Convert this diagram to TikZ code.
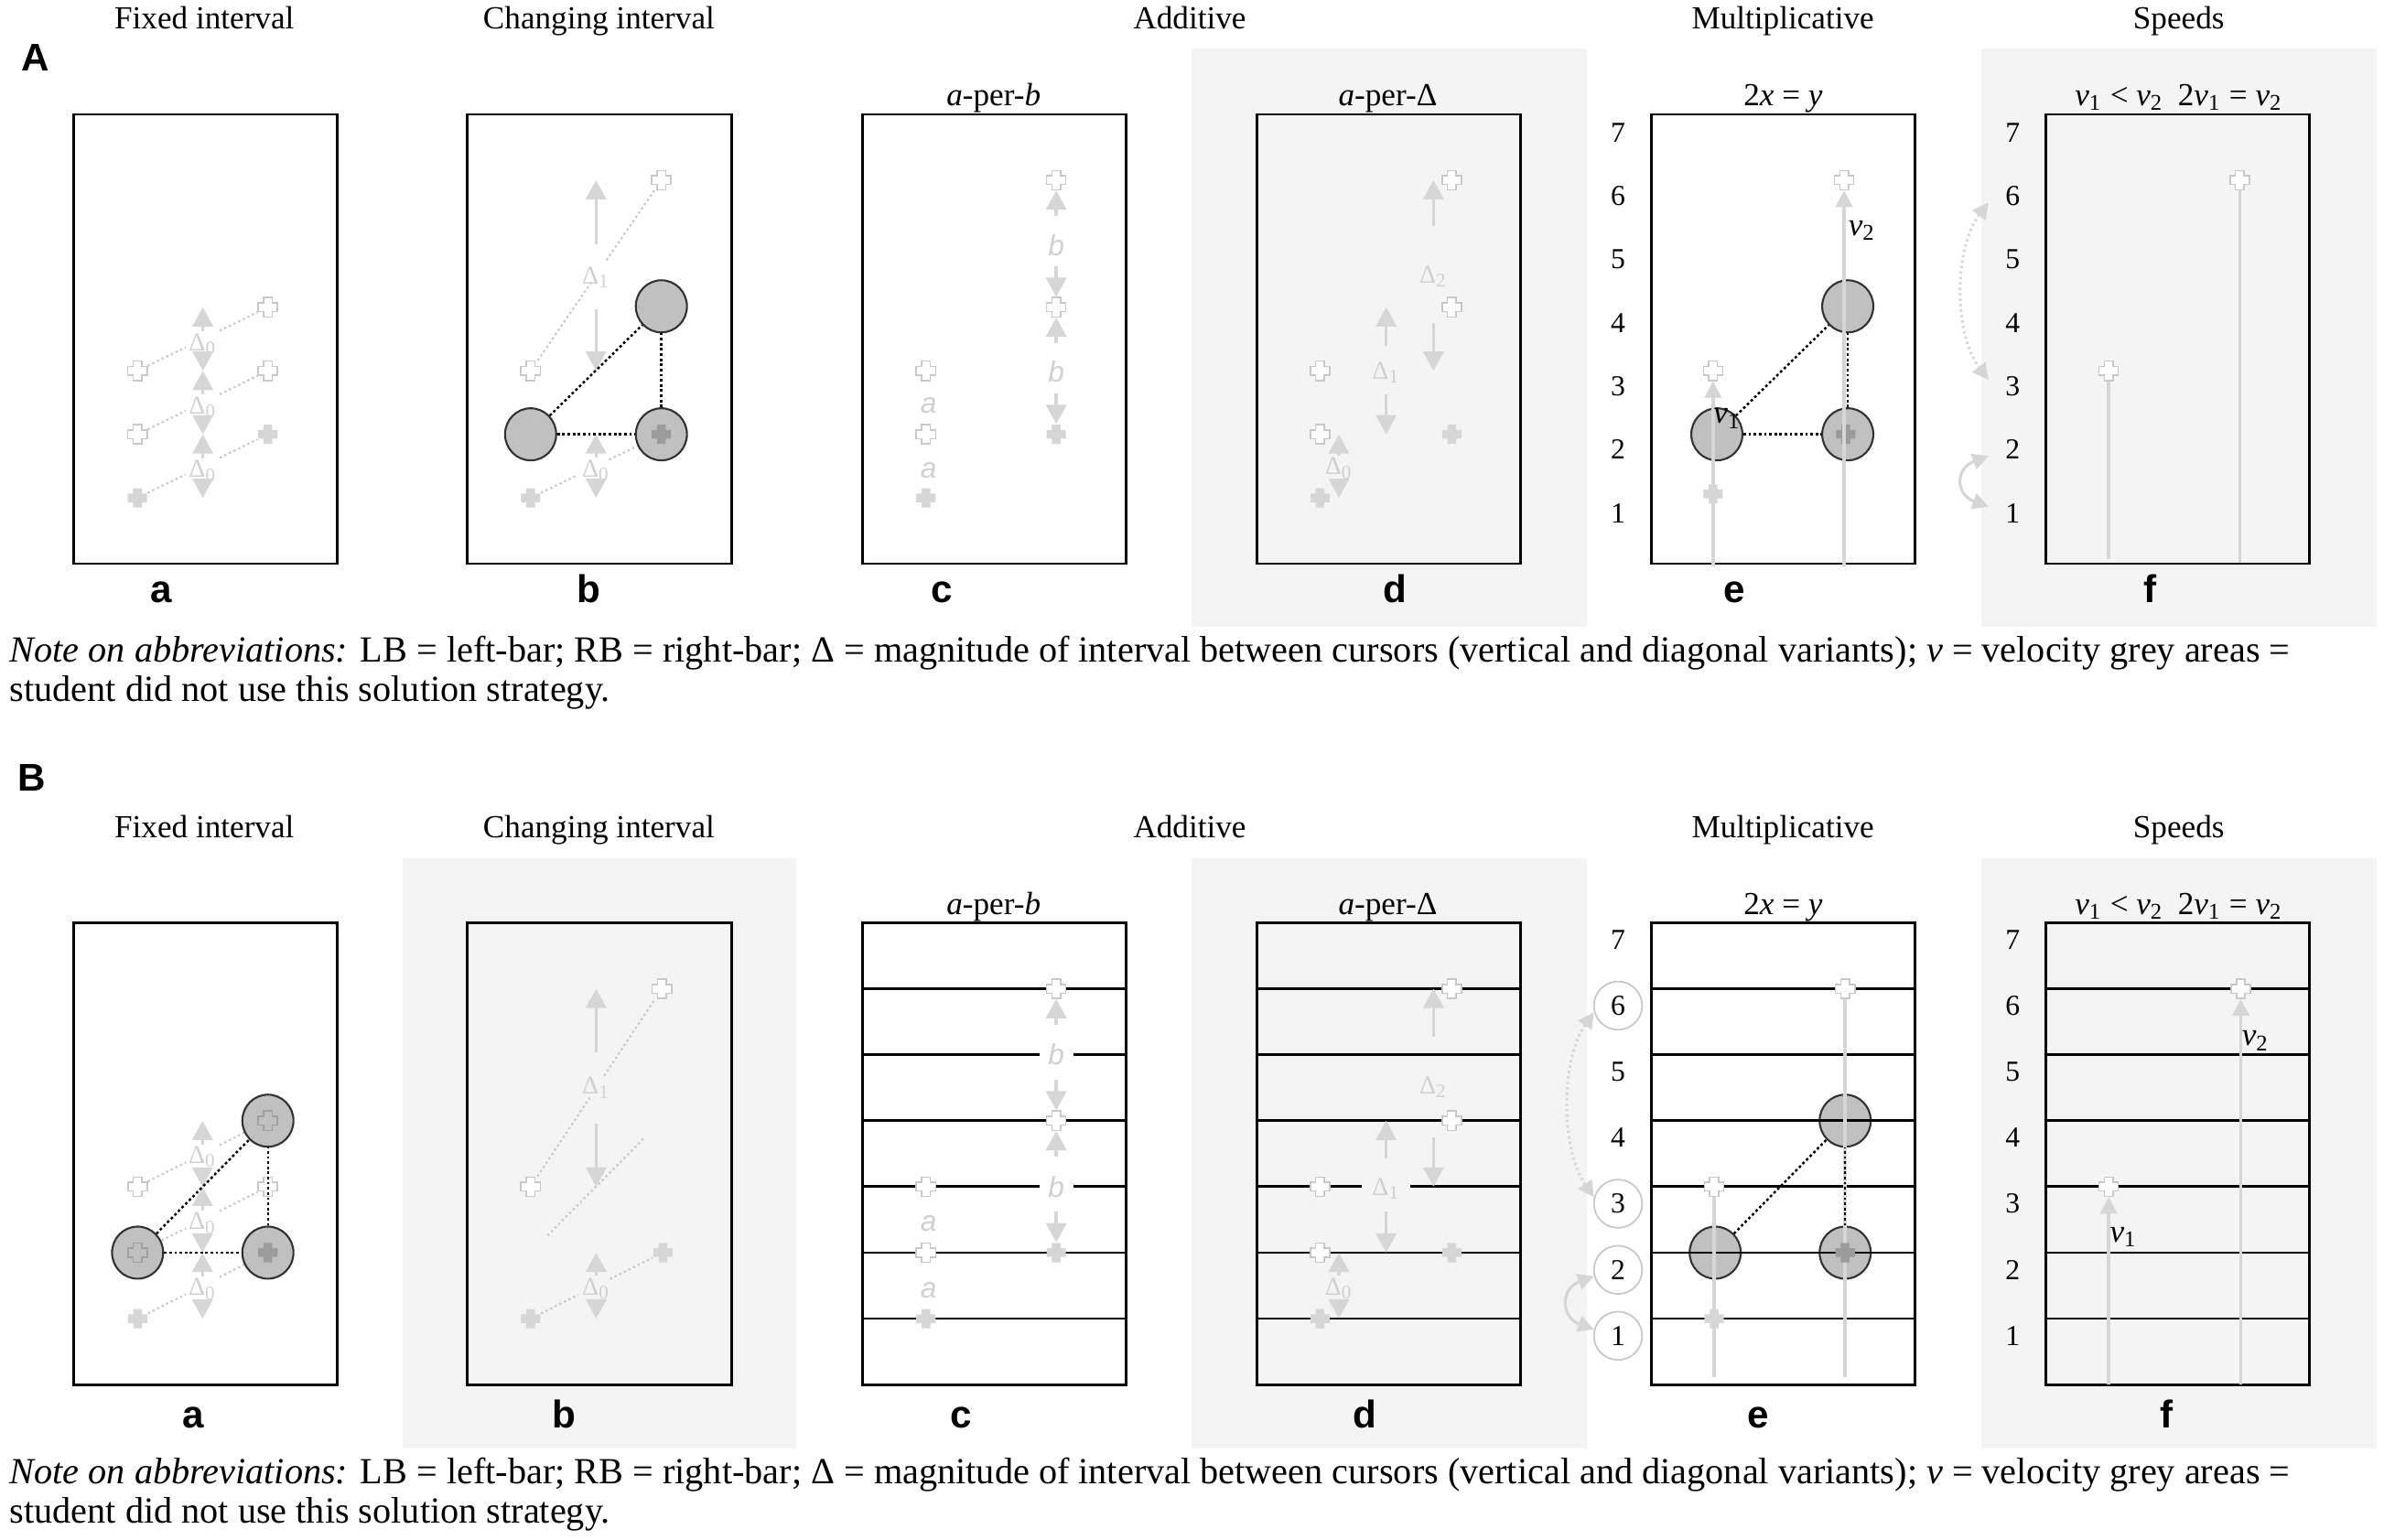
\documentclass[tikz,border=0pt]{standalone}
\usepackage{fontspec}
\setmainfont{Liberation Serif}
\setsansfont{Liberation Sans}
\usetikzlibrary{arrows.meta,shapes.geometric,calc}
\definecolor{bgc}{RGB}{244,244,244}
\definecolor{lg}{RGB}{214,214,214}
\definecolor{lgo}{RGB}{200,200,200}
\definecolor{lgt}{RGB}{208,208,208}
\definecolor{curc}{RGB}{192,192,192}
\definecolor{curd}{RGB}{50,50,50}
\definecolor{dkx}{RGB}{155,155,155}
\definecolor{icc}{RGB}{160,160,160}
\newcommand{\xcn}[2]{\node[cn] (#1) at (#2) {};}
\newcommand{\xsh}[2][ocrs]{\path[#1] (#2.center) ++(-1.35pt,-3pt) -- ++(2.7pt,0pt) -- ++(0pt,1.65pt) -- ++(1.65pt,0pt) -- ++(0pt,2.7pt) -- ++(-1.65pt,0pt) -- ++(0pt,1.65pt) -- ++(-2.7pt,0pt) -- ++(0pt,-1.65pt) -- ++(-1.65pt,0pt) -- ++(0pt,-2.7pt) -- ++(1.65pt,0pt) -- cycle;}
\newcommand{\xcr}[3][ocrs]{\xcn{#2}{#3}\xsh[#1]{#2}}
\newcommand{\dsub}[1]{Δ\textsubscript{#1}}
\newcommand{\vsub}[1]{\textit{v}\textsubscript{#1}}
\begin{document}
\begin{tikzpicture}[
 x=0.4726pt, y=-0.4726pt,
 bx/.style={draw=black, line width=0.8pt},
 gln/.style={draw=black, line width=0.8pt},
 ttl/.style={font=\fontsize{10}{12}\selectfont, anchor=base, inner sep=0pt},
 plab/.style={font=\sffamily\bfseries\fontsize{12}{14}\selectfont, anchor=base, inner sep=0pt},
 rowlab/.style={font=\sffamily\bfseries\fontsize{12}{14}\selectfont, inner sep=0pt},
 numb/.style={font=\fontsize{9}{11}\selectfont, circle, minimum size=15pt, inner sep=0pt},
 cnum/.style={numb, draw=lgo, line width=0.5pt, fill=white},
 dlab/.style={font=\fontsize{8}{9}\selectfont, text=lgt, inner sep=0.5pt},
 dknock/.style={dlab, fill=bgc, minimum width=15pt, minimum height=6pt},
 ilab/.style={font=\sffamily\itshape\fontsize{9}{10}\selectfont, text=lgt, inner sep=0.5pt},
 blab/.style={ilab, fill=white, minimum width=10.5pt, minimum height=6pt},
 vlab/.style={font=\fontsize{10}{12}\selectfont, inner sep=0pt},
 cur/.style={ellipse, draw=curd, line width=0.6pt, fill=curc, minimum width=15.9pt, minimum height=16.2pt, inner sep=0pt},
 cn/.style={inner sep=0pt, minimum size=6pt},
 ocrs/.style={fill=white, draw=lgo, line width=0.45pt},
 fcrs/.style={fill=lg},
 dcrs/.style={fill=dkx},
 icrs/.style={draw=icc, line width=0.45pt},
 garr/.style={draw=lg, line width=1pt, -{Triangle[width=6.3pt,length=6pt]}},
 vln/.style={draw=lg, line width=1pt},
 varr/.style={vln, -{Triangle[width=5.2pt,length=5.2pt]}},
 bdot/.style={draw=black, line width=0.7pt, dash pattern=on 0.8pt off 0.8pt},
 ldot/.style={draw=lgo, line width=0.6pt, dash pattern=on 0.7pt off 0.9pt},
 larc/.style={draw=lg, line width=0.9pt, {Triangle[width=5pt,length=5pt]}-{Triangle[width=5pt,length=5pt]}},
 note/.style={font=\fontsize{11.45}{13}\selectfont, anchor=base west, inner sep=0pt}
]
\useasboundingbox (0,0) rectangle (1568,1013);
% grey areas
\fill[bgc] (783.5,32.2) rectangle (1043.7,412.5);
\fill[bgc] (1303,32.2) rectangle (1563.4,412.5);
\fill[bgc] (264.9,564.4) rectangle (523.7,953);
\fill[bgc] (783.5,564.4) rectangle (1043.7,953);
\fill[bgc] (1303,564.4) rectangle (1563.4,953);
% row letters
\node[rowlab] (rowA) at (23.3,37.9) {A};
\node[rowlab] (rowB) at (21,511.5) {B};
% titles
\foreach \yy/\r in {18.8/A,551.3/B} {
 \node[ttl] (t1\r) at (134.4,\yy) {Fixed interval};
 \node[ttl] (t2\r) at (393.9,\yy) {Changing interval};
 \node[ttl] (t3\r) at (782.5,\yy) {Additive};
 \node[ttl] (t4\r) at (1172.6,\yy) {Multiplicative};
 \node[ttl] (t5\r) at (1433,\yy) {Speeds};
}
\foreach \yy/\r in {69.5/A,601.5/B} {
 \node[ttl] (s1\r) at (653.5,\yy) {\textit{a}-per-\textit{b}};
 \node[ttl] (s2\r) at (912.8,\yy) {\textit{a}-per-Δ};
 \node[ttl] (s3\r) at (1172.8,\yy) {2\textit{x} = \textit{y}};
 \node[ttl] (s4\r) at (1433,\yy) {\vsub{1} < \vsub{2}\hspace{0.45em}2\vsub{1} = \vsub{2}};
}
% panel letters
\node[plab] (laA) at (106,396.3) {a};
\node[plab] (lbA) at (387.3,396.3) {b};
\node[plab] (lcA) at (619.7,396.3) {c};
\node[plab] (ldA) at (917.7,396.3) {d};
\node[plab] (leA) at (1141,396.3) {e};
\node[plab] (lfA) at (1414.5,396.3) {f};
\node[plab] (laB) at (127.4,939) {a};
\node[plab] (lbB) at (370.8,939) {b};
\node[plab] (lcB) at (632,939) {c};
\node[plab] (ldB) at (897.6,939) {d};
\node[plab] (leB) at (1156.3,939) {e};
\node[plab] (lfB) at (1424.8,939) {f};
% notes
\node[note] (nA1) at (6,435.5) {\textit{Note on abbreviations:} LB = left-bar; RB = right-bar; Δ = magnitude of interval between cursors (vertical and diagonal variants); \textit{v} = velocity grey areas =};
\node[note] (nA2) at (6,461.5) {student did not use this solution strategy.};
\node[note] (nB1) at (6,976) {\textit{Note on abbreviations:} LB = left-bar; RB = right-bar; Δ = magnitude of interval between cursors (vertical and diagonal variants); \textit{v} = velocity grey areas =};
\node[note] (nB2) at (6,1002) {student did not use this solution strategy.};
% boxes
\foreach \xx in {48.4,307.5,567.2,826.7,1086,1345.6} {
 \draw[bx] (\xx,75.2) rectangle ++(173.5,295.6);
 \draw[bx] (\xx,607) rectangle ++(173.5,303.8);
}
% grid lines B c d f
\foreach \xx in {567.2,826.7,1345.6} \foreach \yy in {650.4,693.8,737.2,780.6,824,867.4} \draw[gln] (\xx,\yy) -- ++(173.5,0);

%%%%%%%%%%%%%%%% A-a
\xcr[fcrs]{aAl0}{90.4,327.5}
\xcr{aAl1}{90.4,285.7}
\xcr{aAl2}{90.4,243.9}
\xcr[fcrs]{aAr1}{176.2,285.7}
\xcr{aAr2}{176.2,243.9}
\xcr{aAr3}{176.2,202.1}
\draw[ldot] (aAl0) -- ($(aAl0)!0.37!(aAr1)$) ($(aAl0)!0.63!(aAr1)$) -- (aAr1);
\draw[ldot] (aAl1) -- ($(aAl1)!0.37!(aAr2)$) ($(aAl1)!0.63!(aAr2)$) -- (aAr2);
\draw[ldot] (aAl2) -- ($(aAl2)!0.37!(aAr3)$) ($(aAl2)!0.63!(aAr3)$) -- (aAr3);
\coordinate (aAt0) at (133.4,327.5);
\coordinate (aAt1) at (133.4,285.7);
\coordinate (aAt2) at (133.4,243.9);
\coordinate (aAt3) at (133.4,202.1);
\node[dlab] (aAd0) at (133.4,309.8) {\dsub{0}};
\node[dlab] (aAd1) at (133.4,268) {\dsub{0}};
\node[dlab] (aAd2) at (133.4,226.4) {\dsub{0}};
\draw[garr] (aAd0.north) -- (aAt1); \draw[garr] (aAd0.south) -- (aAt0);
\draw[garr] (aAd1.north) -- (aAt2); \draw[garr] (aAd1.south) -- (aAt1);
\draw[garr] (aAd2.north) -- (aAt3); \draw[garr] (aAd2.south) -- (aAt2);

%%%%%%%%%%%%%%%% A-b
\xcr{bAl2}{349,243.9}
\xcr{bAr5}{435,118.5}
\xcr[fcrs]{bAl0}{349,327.5}
\xcn{bAr1}{435,285.7}
\draw[ldot] (bAl2) -- ($(bAl2)!0.47!(bAr5)$) ($(bAl2)!0.58!(bAr5)$) -- (bAr5);
\draw[ldot] (bAl0) -- ($(bAl0)!0.36!(bAr1)$) ($(bAl0)!0.6!(bAr1)$) -- (bAr1);
\node[dlab] (bAd1) at (392,182.7) {\dsub{1}};
\coordinate (bAt5) at (392,118.5);
\coordinate (bAt2) at (392,243.9);
\draw[garr, shorten <=6.5pt] (bAd1.north) -- (bAt5);
\draw[garr, shorten <=6pt] (bAd1.south) -- (bAt2);
\node[dlab] (bAd0) at (392,309.5) {\dsub{0}};
\coordinate (bAt1) at (392,285.7);
\coordinate (bAt0) at (392,327.5);
\draw[garr] (bAd0.north) -- (bAt1); \draw[garr] (bAd0.south) -- (bAt0);
\node[cur] (bAc1) at (349,285.7) {};
\node[cur] (bAc2) at (435,285.7) {};
\node[cur] (bAc3) at (435,201.5) {};
\xsh[dcrs]{bAr1}
\draw[bdot] (bAc1) -- (bAc3);
\draw[bdot] (bAc1) -- (bAc2);
\draw[bdot] (bAc2) -- (bAc3);

%%%%%%%%%%%%%%%% A-c
\xcr{cAl2}{609,243.9}
\xcr{cAl1}{609,285.7}
\xcr[fcrs]{cAl0}{609,327.5}
\node[ilab] (cAa1) at (610.8,266.5) {a};
\node[ilab] (cAa0) at (610.8,309.5) {a};
\xcr{cAr5}{694.7,118.5}
\xcr{cAr3}{694.7,202.1}
\xcr[fcrs]{cAr1}{694.7,285.7}
\node[ilab] (cAb2) at (694.7,161.2) {b};
\node[ilab] (cAb1) at (694.7,244.5) {b};
\draw[garr, shorten <=5pt] (cAb2.north) -- (cAr5);
\draw[garr, shorten <=2.6pt] (cAb2.south) -- (cAr3);
\draw[garr, shorten <=5pt] (cAb1.north) -- (cAr3);
\draw[garr, shorten <=2.8pt] (cAb1.south) -- (cAr1);

%%%%%%%%%%%%%%%% A-d
\xcr{dAl2}{868.2,243.9}
\xcr{dAl1}{868.2,285.7}
\xcr[fcrs]{dAl0}{868.2,327.5}
\xcr{dAr5}{954.9,118.5}
\xcr{dAr3}{954.9,202.1}
\xcr[fcrs]{dAr1}{954.9,285.7}
\node[dlab] (dAd0) at (880.6,308) {\dsub{0}};
\coordinate (dAt01) at (880.6,285.7);
\coordinate (dAt00) at (880.6,327.5);
\draw[garr] (dAd0.north) -- (dAt01); \draw[garr] (dAd0.south) -- (dAt00);
\node[dlab] (dAd1) at (911.7,245) {\dsub{1}};
\coordinate (dAt13) at (911.7,202.1);
\coordinate (dAt11) at (911.7,285.7);
\draw[garr, shorten <=4.2pt] (dAd1.north) -- (dAt13);
\draw[garr, shorten <=3pt] (dAd1.south) -- (dAt11);
\node[dlab] (dAd2) at (942.8,182) {\dsub{2}};
\coordinate (dAt25) at (942.8,118.5);
\coordinate (dAt22) at (942.8,243.9);
\draw[garr, shorten <=11.8pt] (dAd2.north) -- (dAt25);
\draw[garr, shorten <=10.5pt] (dAd2.south) -- (dAt22);

%%%%%%%%%%%%%%%% A-e
\foreach \k/\yy in {7/87.3,6/129,5/170.7,4/212.4,3/254.1,2/295.8,1/337.5} {
 \node[numb] (eA\k) at (1064.2,\yy) {\k};
 \node[numb] (fA\k) at (1323.7,\yy) {\k};
}
\node[cur] (eAc1) at (1129.2,285.7) {};
\node[cur] (eAc2) at (1215.3,285.7) {};
\node[cur] (eAc3) at (1215.3,201.5) {};
\xcr[dcrs]{eAr1}{1214,285.7}
\coordinate (eAb1) at (1126.7,372.5);
\xcn{eAl2}{1126.7,243.9}
\draw[varr] (eAb1) -- (eAl2);
\xsh{eAl2}
\coordinate (eAb2) at (1212.9,372.5);
\xcn{eAr5}{1212.9,118.5}
\draw[varr] (eAb2) -- (eAr5);
\xsh{eAr5}
\xcr[fcrs]{eAl0}{1126.7,325}
\draw[bdot] (eAc1) -- (eAc3);
\draw[bdot] (eAc1) -- (eAc2);
\draw[bdot] (eAc2) -- (eAc3);
\node[vlab] (eAv1) at (1136,275.4) {\vsub{1}};
\node[vlab] (eAv2) at (1224.7,151.8) {\vsub{2}};

%%%%%%%%%%%%%%%% A-f
\coordinate (fAb1) at (1386.9,368);
\xcn{fAl2}{1386.9,243.9}
\draw[vln] (fAb1) -- (fAl2);
\xsh{fAl2}
\coordinate (fAb2) at (1473.1,370);
\xcn{fAr5}{1473.1,118.5}
\draw[vln] (fAb2) -- (fAr5);
\xsh{fAr5}
\draw[larc, dash pattern=on 0.7pt off 1pt] (fA6.195) .. controls +(-23,30) and +(-23,-30) .. (fA3.165);
\draw[larc] (fA2.195) .. controls +(-22,8) and +(-22,-8) .. (fA1.165);

%%%%%%%%%%%%%%%% B-a
\xcr[fcrs]{aBl0}{90.5,867.4}
\xcn{aBl1}{90.5,824}
\xcr{aBl2}{90.5,780.6}
\xcn{aBr1}{176.2,824}
\xcr{aBr2}{176.2,780.6}
\xcn{aBr3}{176.2,737.2}
\draw[ldot] (aBl0) -- ($(aBl0)!0.37!(aBr1)$) ($(aBl0)!0.63!(aBr1)$) -- (aBr1);
\draw[ldot] (aBl1) -- ($(aBl1)!0.37!(aBr2)$) ($(aBl1)!0.63!(aBr2)$) -- (aBr2);
\draw[ldot] (aBl2) -- ($(aBl2)!0.37!(aBr3)$) ($(aBl2)!0.63!(aBr3)$) -- (aBr3);
\coordinate (aBt0) at (133.2,867.4);
\coordinate (aBt1) at (133.2,824);
\coordinate (aBt2) at (133.2,780.6);
\coordinate (aBt3) at (133.2,737.2);
\node[dlab] (aBd0) at (133.2,848) {\dsub{0}};
\node[dlab] (aBd1) at (133.2,804.6) {\dsub{0}};
\node[dlab] (aBd2) at (133.2,761.2) {\dsub{0}};
\draw[garr] (aBd0.north) -- (aBt1); \draw[garr] (aBd0.south) -- (aBt0);
\draw[garr] (aBd1.north) -- (aBt2); \draw[garr] (aBd1.south) -- (aBt1);
\draw[garr] (aBd2.north) -- (aBt3); \draw[garr] (aBd2.south) -- (aBt2);
\node[cur] (aBc1) at (90.5,824) {};
\node[cur] (aBc2) at (176.2,824) {};
\node[cur] (aBc3) at (176.2,737.2) {};
\xsh[icrs]{aBl1}
\xsh[icrs]{aBr3}
\xsh[dcrs]{aBr1}
\draw[bdot] (aBc1) -- (aBc3);
\draw[bdot] (aBc1) -- (aBc2);
\draw[bdot] (aBc2) -- (aBc3);

%%%%%%%%%%%%%%%% B-b
\xcr{bBl2}{349,780.6}
\xcr[fcrs]{bBl0}{349,867.4}
\xcr{bBr5}{435.3,650.4}
\xcr[fcrs]{bBr1}{436,824}
\draw[ldot] (bBl2) -- ($(bBl2)!0.45!(bBr5)$) ($(bBl2)!0.56!(bBr5)$) -- (bBr5);
\coordinate (bBg1) at (349,824);
\coordinate (bBg2) at (435,737.2);
\draw[ldot, shorten <=7.5pt, shorten >=7.5pt] (bBg1) -- (bBg2);
\draw[ldot] (bBl0) -- ($(bBl0)!0.36!(bBr1)$) ($(bBl0)!0.6!(bBr1)$) -- (bBr1);
\node[dlab] (bBd1) at (392.1,715.5) {\dsub{1}};
\coordinate (bBt5) at (392.1,650.4);
\coordinate (bBt2) at (392.1,780.6);
\draw[garr, shorten <=7.2pt] (bBd1.north) -- (bBt5);
\draw[garr, shorten <=7.2pt] (bBd1.south) -- (bBt2);
\node[dlab] (bBd0) at (392.1,847.7) {\dsub{0}};
\coordinate (bBt1) at (392.1,824);
\coordinate (bBt0) at (392.1,867.4);
\draw[garr] (bBd0.north) -- (bBt1); \draw[garr] (bBd0.south) -- (bBt0);

%%%%%%%%%%%%%%%% B-c
\xcr{cBl2}{609,780.6}
\xcr{cBl1}{609,824}
\xcr[fcrs]{cBl0}{609,867.4}
\node[ilab] (cBa1) at (610.8,804.7) {a};
\node[ilab] (cBa0) at (610.8,848.9) {a};
\xcr{cBr5}{694.7,650.4}
\xcr{cBr3}{694.7,737.2}
\xcr[fcrs]{cBr1}{694.7,824}
\node[blab] (cBb2) at (694.7,693.8) {b};
\node[blab] (cBb1) at (694.7,780.6) {b};
\draw[garr, shorten <=5.2pt] (cBb2.north) -- (cBr5);
\draw[garr, shorten <=3.8pt] (cBb2.south) -- (cBr3);
\draw[garr, shorten <=5.4pt] (cBb1.north) -- (cBr3);
\draw[garr, shorten <=3.8pt] (cBb1.south) -- (cBr1);

%%%%%%%%%%%%%%%% B-d
\xcr{dBl2}{868.2,780.6}
\xcr{dBl1}{868.2,824}
\xcr[fcrs]{dBl0}{868.2,867.4}
\xcr{dBr5}{954.9,650.4}
\xcr{dBr3}{954.9,737.2}
\xcr[fcrs]{dBr1}{954.9,824}
\node[dlab] (dBd0) at (880.6,847.5) {\dsub{0}};
\coordinate (dBt01) at (880.6,824);
\coordinate (dBt00) at (880.6,867.4);
\draw[garr] (dBd0.north) -- (dBt01); \draw[garr] (dBd0.south) -- (dBt00);
\node[dknock] (dBd1) at (911.7,782) {\dsub{1}};
\coordinate (dBt13) at (911.7,737.2);
\coordinate (dBt11) at (911.7,824);
\draw[garr, shorten <=5.6pt] (dBd1.north) -- (dBt13);
\draw[garr, shorten <=3.2pt] (dBd1.south) -- (dBt11);
\node[dlab] (dBd2) at (942.8,715) {\dsub{2}};
\coordinate (dBt25) at (942.8,650.4);
\coordinate (dBt22) at (942.8,780.6);
\draw[garr, shorten <=11.6pt] (dBd2.north) -- (dBt25);
\draw[garr, shorten <=11.6pt] (dBd2.south) -- (dBt22);

%%%%%%%%%%%%%%%% B-e
\foreach \k/\yy in {7/618.1,5/705,4/748.4} \node[numb] (eB\k) at (1064.2,\yy) {\k};
\foreach \k/\yy in {6/661.5,3/791.8,2/835.3,1/878.7} \node[cnum] (eB\k) at (1064.2,\yy) {\k};
\foreach \k/\yy in {7/618.1,6/661.5,5/705,4/748.4,3/791.8,2/835.3,1/878.7} \node[numb] (fB\k) at (1323.7,\yy) {\k};
\node[cur] (eBc1) at (1128.1,824) {};
\node[cur] (eBc2) at (1213.6,824) {};
\node[cur] (eBc3) at (1213.6,737.2) {};
\foreach \yy in {650.4,693.8,737.2,780.6,824,867.4} \draw[gln] (1086,\yy) -- ++(173.5,0);
\coordinate (eBb1) at (1127.4,905.6);
\xcn{eBl2}{1127.4,780.6}
\draw[vln] (eBb1) -- (eBl2);
\xsh{eBl2}
\coordinate (eBb2) at (1213.6,905.6);
\xcn{eBr5}{1213.6,650.4}
\draw[vln] (eBb2) -- (eBr5);
\xsh{eBr5}
\xcr[fcrs]{eBl0}{1127.4,867.4}
\xcr[dcrs]{eBr1}{1213.6,824}
\draw[bdot] (eBc1) -- (eBc3);
\draw[bdot] (eBc2) -- (eBc3);
\draw[larc, dash pattern=on 0.7pt off 1pt] (eB6.195) .. controls +(-22,32) and +(-22,-32) .. (eB3.165);
\draw[larc] (eB2.195) .. controls +(-22,8) and +(-22,-8) .. (eB1.165);

%%%%%%%%%%%%%%%% B-f
\coordinate (fBb1) at (1386.9,910.5);
\xcn{fBl2}{1386.9,780.6}
\draw[varr] (fBb1) -- (fBl2);
\xsh{fBl2}
\coordinate (fBb2) at (1473.8,910.5);
\xcn{fBr5}{1473.8,650.4}
\draw[varr] (fBb2) -- (fBr5);
\xsh{fBr5}
\node[vlab] (fBv1) at (1396.7,813.9) {\vsub{1}};
\node[vlab] (fBv2) at (1483.5,684.6) {\vsub{2}};
\end{tikzpicture}
\end{document}
